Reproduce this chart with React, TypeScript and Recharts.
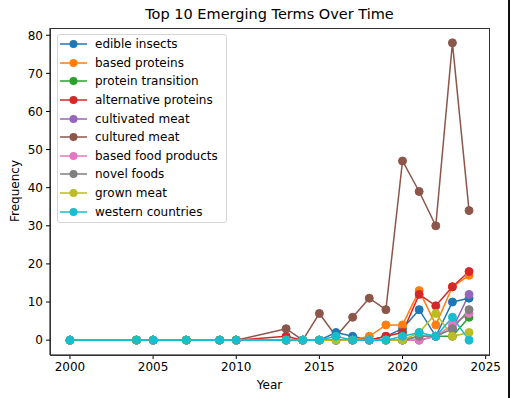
import { LineChart, Line, XAxis, YAxis } from 'recharts'

const years = [2000, 2004, 2005, 2007, 2009, 2010, 2013, 2014, 2015, 2016, 2017, 2018, 2019, 2020, 2021, 2022, 2023, 2024]

const edibleInsects = [0, 0, 0, 0, 0, 0, 0, 0, 0, 2, 1, 0, 1, 3, 8, 1, 10, 11]
const basedProteins = [0, 0, 0, 0, 0, 0, 0, 0, 0, 0, 0, 1, 4, 4, 13, 4, 14, 17]
const proteinTransition = [0, 0, 0, 0, 0, 0, 0, 0, 0, 0, 0, 0, 0, 0, 1, 1, 1, 6]
const alternativeProteins = [0, 0, 0, 0, 0, 0, 1, 0, 0, 0, 0, 0, 1, 2, 12, 9, 14, 18]
const cultivatedMeat = [0, 0, 0, 0, 0, 0, 0, 0, 0, 0, 0, 0, 0, 0, 0, 1, 3, 12]
const culturedMeat = [0, 0, 0, 0, 0, 0, 3, 0, 7, 1, 6, 11, 8, 47, 39, 30, 78, 34]
const basedFoodProducts = [0, 0, 0, 0, 0, 0, 0, 0, 0, 0, 0, 0, 0, 0, 0, 1, 4, 7]
const novelFoods = [0, 0, 0, 0, 0, 0, 0, 0, 0, 0, 0, 0, 0, 0, 1, 1, 3, 8]
const grownMeat = [0, 0, 0, 0, 0, 0, 0, 0, 0, 0, 0, 0, 0, 0, 2, 7, 1, 2]
const westernCountries = [0, 0, 0, 0, 0, 0, 0, 0, 0, 1, 0, 0, 0, 1, 2, 1, 6, 0]

const xTicks = [2000, 2005, 2010, 2015, 2020, 2025]
const yTicks = [0, 10, 20, 30, 40, 50, 60, 70, 80]

const series = [
  { key: 'edible insects', values: edibleInsects, color: '#1f77b4' },
  { key: 'based proteins', values: basedProteins, color: '#ff7f0e' },
  { key: 'protein transition', values: proteinTransition, color: '#2ca02c' },
  { key: 'alternative proteins', values: alternativeProteins, color: '#d62728' },
  { key: 'cultivated meat', values: cultivatedMeat, color: '#9467bd' },
  { key: 'cultured meat', values: culturedMeat, color: '#8c564b' },
  { key: 'based food products', values: basedFoodProducts, color: '#e377c2' },
  { key: 'novel foods', values: novelFoods, color: '#7f7f7f' },
  { key: 'grown meat', values: grownMeat, color: '#bcbd22' },
  { key: 'western countries', values: westernCountries, color: '#17becf' }
]

const data = years.map((year, i) => {
  const row: Record<string, number> = { year }
  series.forEach((s) => {
    row[s.key] = s.values[i]
  })
  return row
})

const font = 'DejaVu Sans, sans-serif'
const tickStyle = { fontSize: 12, fill: '#000', fontFamily: font }

function LegendBox() {
  return (
    <div
      style={{
        position: 'absolute',
        left: 57,
        top: 34,
        width: 170,
        height: 189,
        border: '1px solid #d6d6d6',
        borderRadius: 3,
        background: 'rgba(255,255,255,0.8)',
        fontFamily: font,
        fontSize: 12,
        boxSizing: 'border-box',
        paddingTop: 0
      }}
    >
      {series.map((s) => (
        <div key={s.key} style={{ display: 'flex', alignItems: 'center', height: 18.6 }}>
          <svg width={37} height={10} style={{ flexShrink: 0 }}>
            <line x1={2} x2={29} y1={5} y2={5} stroke={s.color} strokeWidth={1.5} />
            <circle cx={15.5} cy={5} r={4} fill={s.color} />
          </svg>
          <span style={{ color: '#000', whiteSpace: 'nowrap' }}>{s.key}</span>
        </div>
      ))}
    </div>
  )
}

export default function App() {
  return (
    <div style={{ position: 'absolute', left: 0, top: 0, width: 510, height: 398, background: '#fff' }}>
      <div
        style={{
          position: 'absolute',
          top: 6,
          left: 50,
          width: 439,
          textAlign: 'center',
          fontFamily: font,
          fontSize: 14.5,
          color: '#000'
        }}
      >
        Top 10 Emerging Terms Over Time
      </div>
      <LineChart width={510} height={398} data={data} margin={{ top: 28, right: 21, left: 10, bottom: 13 }}>
        <XAxis
          dataKey="year"
          type="number"
          domain={[1998.8, 2025.2]}
          ticks={xTicks}
          allowDataOverflow
          tick={tickStyle}
          tickSize={4}
          tickMargin={3}
          height={30}
          stroke="#000"
          tickLine={{ stroke: '#000' }}
        />
        <YAxis
          type="number"
          domain={[-3.9, 81.9]}
          ticks={yTicks}
          allowDataOverflow
          tick={tickStyle}
          tickSize={4}
          tickMargin={3}
          width={40}
          stroke="#000"
          tickLine={{ stroke: '#000' }}
        />
        {series.map((s) => (
          <Line
            key={s.key}
            dataKey={s.key}
            type="linear"
            stroke={s.color}
            strokeWidth={1.5}
            dot={{ r: 4, fill: s.color, stroke: s.color, strokeWidth: 1 }}
            activeDot={false}
            isAnimationActive={false}
          />
        ))}
      </LineChart>
      <div
        style={{
          position: 'absolute',
          left: 50,
          top: 28,
          width: 440,
          height: 328,
          border: '1px solid #333',
          boxSizing: 'border-box',
          pointerEvents: 'none'
        }}
      />
      <div style={{ position: 'absolute', left: 508, top: 0, width: 2, height: 398, background: '#111' }} />
      <div
        style={{
          position: 'absolute',
          left: 50,
          top: 378,
          width: 439,
          textAlign: 'center',
          fontFamily: font,
          fontSize: 12,
          color: '#000'
        }}
      >
        Year
      </div>
      <div
        style={{
          position: 'absolute',
          left: 15,
          top: 191,
          transform: 'translate(-50%, -50%) rotate(-90deg)',
          fontFamily: font,
          fontSize: 12,
          color: '#000',
          whiteSpace: 'nowrap'
        }}
      >
        Frequency
      </div>
      <LegendBox />
    </div>
  )
}
